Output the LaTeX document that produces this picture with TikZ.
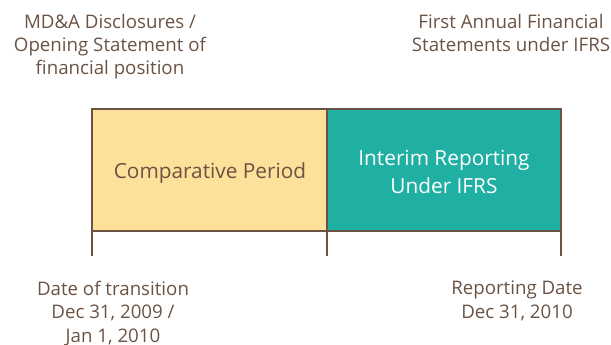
\documentclass[tikz,border=0pt]{standalone}
\usepackage{fontspec}
\setmainfont{Open Sans}
\definecolor{bark}{HTML}{6B5344}
\definecolor{sand}{HTML}{FDE09A}
\definecolor{teal}{HTML}{1FAFA3}
\begin{document}
\begin{tikzpicture}[x=1pt,y=-1pt,
  frame/.style={draw=bark,line width=2.5pt},
  tick/.style={draw=bark,line width=2.5pt},
  label/.style={text=bark,align=center,anchor=base,inner sep=0pt,font=\fontsize{18.7}{23.2}\selectfont},
  boxtext/.style={align=center,anchor=base,inner sep=0pt,font=\fontsize{20.8}{28}\selectfont}]
\useasboundingbox (0,0) rectangle (611,345);
% the two periods
\path[fill=sand] (92,109) rectangle (327,231);
\path[fill=teal] (327,109) rectangle (561,231);
\draw[frame] (92,109) rectangle (561,231);
\draw[frame] (327,109) -- (327,231);
% timeline ticks
\coordinate (t0) at (92,231);
\coordinate (t1) at (327,231);
\coordinate (t2) at (561,231);
\coordinate (b0) at (92,256);
\coordinate (b1) at (327,256);
\coordinate (b2) at (561,256);
\draw[tick] (t0) -- (b0);
\draw[tick] (t1) -- (b1);
\draw[tick] (t2) -- (b2);
% period labels (anchored at the baseline of the last line)
\node[boxtext,text=bark] (comp) at (210,178) {Comparative Period};
\node[boxtext,text=white] (interim) at (444,193) {Interim Reporting\\Under IFRS};
% milestone labels
\node[label] (mda) at (110,75) {MD\&A Disclosures /\\Opening Statement of\\financial position};
\node[label] (annual) at (511,52) {First Annual Financial\\Statements under IFRS};
\node[label] (trans) at (113,342) {Date of transition\\Dec 31, 2009 /\\Jan 1, 2010};
\node[label] (rep) at (517,318) {Reporting Date\\Dec 31, 2010};
\end{tikzpicture}
\end{document}
